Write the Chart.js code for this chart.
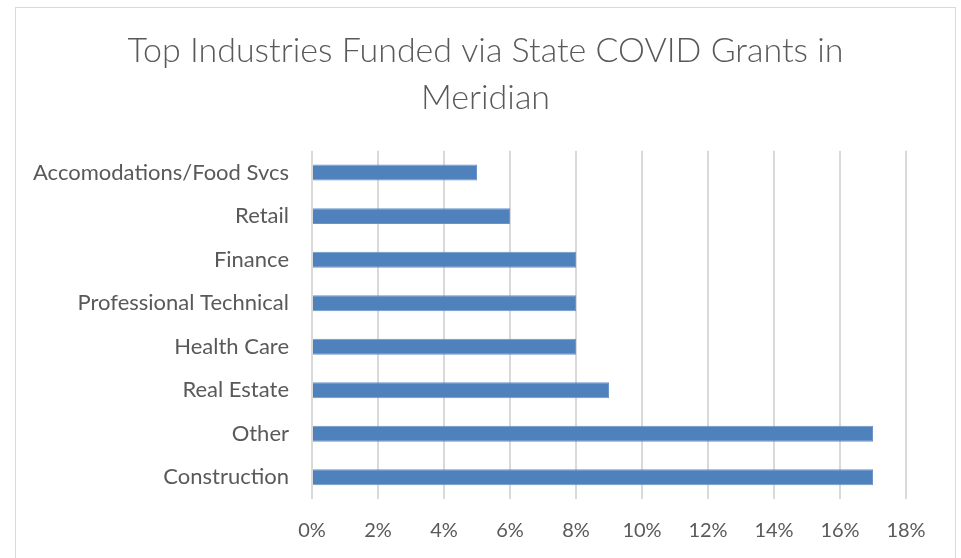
<!DOCTYPE html>
<html>
<head>
<meta charset="utf-8">
<script src="https://cdn.jsdelivr.net/npm/chart.js@4"></script>
<style>
    html, body { margin: 0; padding: 0; background: #ffffff; overflow: hidden; }
    .chart-panel {
        position: absolute;
        left: 15px;
        top: 7px;
        width: 939px;
        height: 560px;
        border: 1.5px solid #d9d9d9;
        border-bottom: none;
        background: #ffffff;
    }
</style>
</head>
<body>
<div class="chart-panel">
    <canvas id="chart" width="939" height="551"></canvas>
</div>
<script>
    // values (percent of grants)
    const industries = [
        'Accomodations/Food Svcs',
        'Retail',
        'Finance',
        'Professional Technical',
        'Health Care',
        'Real Estate',
        'Other',
        'Construction'
    ];
    const shares = [5, 6, 8, 8, 8, 9, 17, 17];
    const tickValues = [0, 2, 4, 6, 8, 10, 12, 14, 16, 18];

    const FONT = "Lato, 'Open Sans', sans-serif";
    const TEXT = '#595959';

    const config = {
        type: 'bar',
        data: {
            labels: industries,
            datasets: [{
                label: 'Share',
                data: shares,
                backgroundColor: '#4f81bd',
                borderColor: '#6a95c9',
                borderWidth: 1,
                barPercentage: 0.367,
                categoryPercentage: 1
            }]
        },
        options: {
            indexAxis: 'y',
            responsive: false,
            animation: false,
            devicePixelRatio: 1,
            layout: {
                padding: 0
            },
            plugins: {
                legend: { display: false },
                tooltip: { enabled: false },
                title: {
                    display: true,
                    text: ['Top Industries Funded via State COVID Grants in', 'Meridian'],
                    color: TEXT,
                    font: { family: FONT, size: 34, weight: 300, lineHeight: 1.38 },
                    padding: { top: 20, bottom: 29 }
                }
            },
            scales: {
                x: {
                    min: 0,
                    max: 18,
                    afterBuildTicks: (scale) => {
                        scale.ticks = tickValues.map(v => ({ value: v }));
                    },
                    afterFit: (scale) => { scale.height = 60; },
                    grid: {
                        color: '#d9d9d9',
                        lineWidth: 2,
                        drawTicks: false
                    },
                    border: { display: false },
                    ticks: {
                        color: TEXT,
                        padding: 20,
                        font: { family: FONT, size: 20 },
                        callback: (v) => v + '%'
                    }
                },
                y: {
                    afterFit: (scale) => { scale.width = 296; },
                    grid: { display: false, drawTicks: false },
                    border: { display: false },
                    ticks: {
                        color: TEXT,
                        padding: 23,
                        font: { family: FONT, size: 22 }
                    }
                },
                // empty right-hand axis, only keeps the plot clear of the right edge
                spacer: {
                    type: 'linear',
                    position: 'right',
                    afterFit: (scale) => { scale.width = 49; },
                    grid: { display: false, drawTicks: false },
                    border: { display: false },
                    ticks: { display: false }
                }
            }
        }
    };

    new Chart(document.getElementById('chart'), config);
</script>
</body>
</html>
